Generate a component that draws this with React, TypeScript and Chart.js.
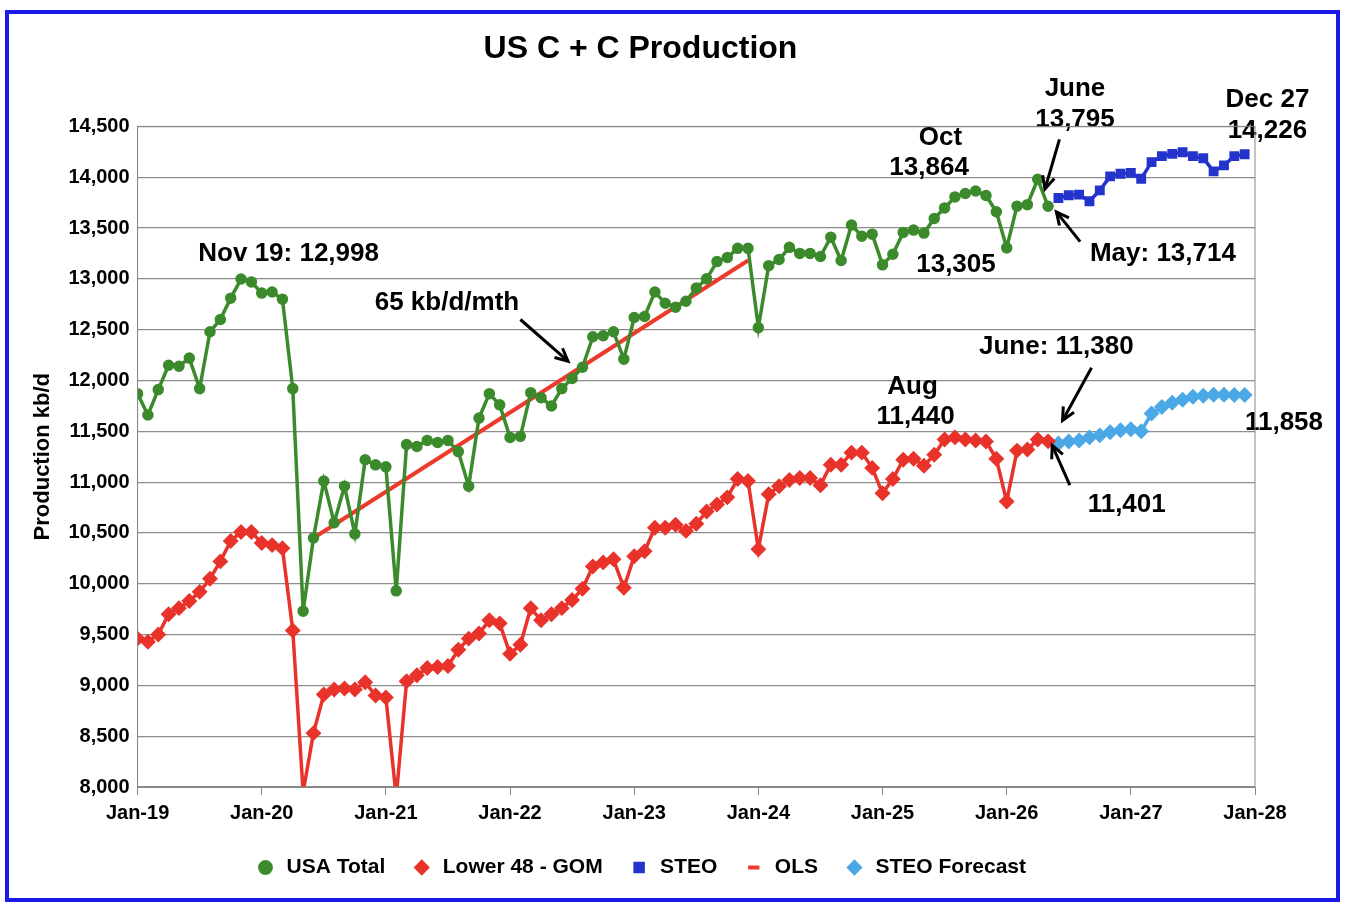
import React, { useEffect, useRef } from "react";
import { Chart, registerables } from "chart.js";
Chart.register(...registerables);

const tickLabels = ["Jan-19","Jan-20","Jan-21","Jan-22","Jan-23","Jan-24","Jan-25","Jan-26","Jan-27","Jan-28"];

// monthly from Jan-19
const usaTotal = [11870,11660,11910,12150,12140,12220,11920,12480,12600,12810,12998,12970,
12860,12870,12800,11920,9730,10450,11010,10600,10960,10490,11220,11170,
11150,9930,11370,11350,11410,11390,11410,11300,10960,11630,11870,11760,
11440,11450,11880,11830,11750,11920,12020,12130,12430,12440,12480,12210,
12620,12630,12870,12760,12720,12780,12910,13000,13170,13210,13300,13300,
12520,13130,13190,13310,13250,13250,13220,13410,13180,13530,13420,13440,
13138,13242,13457,13480,13450,13594,13698,13806,13840,13864,13820,13660,
13305,13715,13730,13980,13714];
const lower48 = [9460,9430,9500,9700,9760,9830,9920,10050,10220,10420,10510,10510,
10400,10380,10350,9540,7950,8530,8910,8960,8970,8960,9030,8900,
8880,7900,9040,9100,9170,9180,9190,9350,9460,9510,9640,9610,
9310,9400,9760,9640,9700,9760,9840,9950,10170,10210,10240,9960,
10270,10320,10550,10550,10580,10520,10590,10710,10780,10850,11030,11010,
10340,10880,10960,11020,11040,11040,10970,11170,11170,11290,11290,11140,
10890,11030,11220,11230,11160,11270,11420,11440,11420,11410,11400,11230,
10810,11310,11320,11420,11401];
// from Jun-26
const steo = [13795,13823,13829,13764,13871,14008,14034,14043,13985,14148,14207,14229,14246,14207,14187,14057,14116,14207,14226];
const steoForecast = [11380,11400,11410,11440,11460,11490,11510,11520,11500,11675,11740,11780,11810,11840,11850,11860,11860,11858,11858];
const olsMonths = [17, 59];
const olsValues = [10450, 13180];

const texts: [string, number, number][] = [
  ["Nov 19: 12,998", 14.6, 13249],
  ["65 kb/d/mth", 29.9, 12760],
  ["Oct", 77.6, 14383],
  ["13,864", 76.5, 14090],
  ["13,305", 79.1, 13141],
  ["June", 90.6, 14871],
  ["13,795", 90.6, 14568],
  ["Dec 27", 109.2, 14764],
  ["14,226", 109.2, 14461],
  ["May: 13,714", 99.1, 13249],
  ["June: 11,380", 88.8, 12330],
  ["Aug", 74.9, 11939],
  ["11,440", 75.2, 11646],
  ["11,858", 110.8, 11587],
  ["11,401", 95.6, 10776],
];
const arrows: [number, number, number, number][] = [
  [37, 12600, 41.6, 12190],
  [89.1, 14373, 87.7, 13884],
  [91.1, 13366, 88.8, 13659],
  [92.2, 12125, 89.4, 11607],
  [90.1, 10971, 88.4, 11362],
];

const pts = (vals: number[], start: number) => vals.map((v, i) => ({ x: start + i, y: v }));

const annot = {
  id: "annot",
  afterDraw(chart: any) {
    const { ctx, scales } = chart;
    const xs = scales.x, ys = scales.y;
    ctx.save();
    ctx.fillStyle = "#000";
    ctx.font = "bold 26px 'Liberation Sans', Arial, sans-serif";
    ctx.textAlign = "center";
    ctx.textBaseline = "middle";
    for (const [t, m, v] of texts) ctx.fillText(t, xs.getPixelForValue(m), ys.getPixelForValue(v));
    ctx.strokeStyle = "#000";
    ctx.lineWidth = 3;
    for (const [m1, v1, m2, v2] of arrows) {
      const x1 = xs.getPixelForValue(m1), y1 = ys.getPixelForValue(v1);
      const x2 = xs.getPixelForValue(m2), y2 = ys.getPixelForValue(v2);
      const a = Math.atan2(y2 - y1, x2 - x1);
      ctx.beginPath(); ctx.moveTo(x1, y1); ctx.lineTo(x2, y2); ctx.stroke();
      ctx.beginPath();
      ctx.moveTo(x2 - 14 * Math.cos(a - 0.45), y2 - 14 * Math.sin(a - 0.45));
      ctx.lineTo(x2, y2);
      ctx.lineTo(x2 - 14 * Math.cos(a + 0.45), y2 - 14 * Math.sin(a + 0.45));
      ctx.stroke();
    }
    const ca = chart.chartArea;
    ctx.strokeStyle = "#888"; ctx.lineWidth = 1;
    ctx.strokeRect(ca.left, ca.top, ca.right - ca.left, ca.bottom - ca.top);
    ctx.restore();
  },
};

export default function App() {
  const ref = useRef<HTMLCanvasElement>(null);
  useEffect(() => {
    const font = "'Liberation Sans', Arial, sans-serif";
    const chart = new Chart(ref.current!, {
      type: "line",
      data: {
        datasets: [
          { label: "USA Total", data: pts(usaTotal, 0), borderColor: "#3b8a2b", backgroundColor: "#3b8a2b", borderWidth: 3.5, pointStyle: "circle", pointRadius: 4, tension: 0 },
          { label: "Lower 48 - GOM", data: pts(lower48, 0), borderColor: "#e8322a", backgroundColor: "#e8322a", borderWidth: 3.5, pointStyle: "rectRot", pointRadius: 5.5, tension: 0 },
          { label: "STEO", data: pts(steo, 89), borderColor: "#2433cc", backgroundColor: "#2433cc", borderWidth: 3.5, pointStyle: "rect", pointRadius: 4.5, tension: 0 },
          { label: "OLS", data: olsMonths.map((m, i) => ({ x: m, y: olsValues[i] })), borderColor: "#ee3a2a", backgroundColor: "#ee3a2a", borderWidth: 4, pointRadius: 0, pointStyle: "line", tension: 0 },
          { label: "STEO Forecast", data: pts(steoForecast, 89), borderColor: "#4aa8e6", backgroundColor: "#4aa8e6", borderWidth: 3.5, pointStyle: "rectRot", pointRadius: 5.5, tension: 0 },
        ],
      },
      options: {
        animation: false,
        responsive: false,
        layout: { padding: { left: 17, right: 81, top: 0, bottom: 10 } },
        plugins: {
          title: { display: true, text: "US C + C Production", color: "#000", font: { family: font, size: 32, weight: "bold" }, padding: { top: 16, bottom: 58 } },
          legend: { position: "bottom", labels: { color: "#000", usePointStyle: true, boxHeight: 8, font: { family: font, size: 21, weight: "bold" }, padding: 26 } },
          tooltip: { enabled: false },
        },
        scales: {
          x: {
            type: "linear", min: 0, max: 108,
            ticks: { stepSize: 12, color: "#000", font: { family: font, size: 20, weight: "bold" }, callback: (v: any) => tickLabels[Math.round(v / 12)] ?? "", padding: 6 },
            grid: { drawOnChartArea: false, color: "#888", tickLength: 8 },
            border: { color: "#888" },
          },
          y: {
            min: 8000, max: 14500,
            ticks: { stepSize: 500, color: "#000", font: { family: font, size: 20, weight: "bold" }, callback: (v: any) => Number(v).toLocaleString("en-US"), padding: 8 },
            grid: { color: "#8c8c8c", lineWidth: 1.2, tickLength: 0 },
            border: { color: "#888" },
            title: { display: true, text: "Production kb/d", color: "#000", font: { family: font, size: 22, weight: "bold" }, padding: 4 },
          },
        },
      } as any,
      plugins: [annot],
    });
    return () => chart.destroy();
  }, []);
  return (
    <div style={{ position: "absolute", left: 5, top: 10, width: 1327, height: 884, border: "4px solid #1a1ae8", background: "#fff" }}>
      <canvas ref={ref} width={1327} height={884} style={{ display: "block" }} />
    </div>
  );
}
